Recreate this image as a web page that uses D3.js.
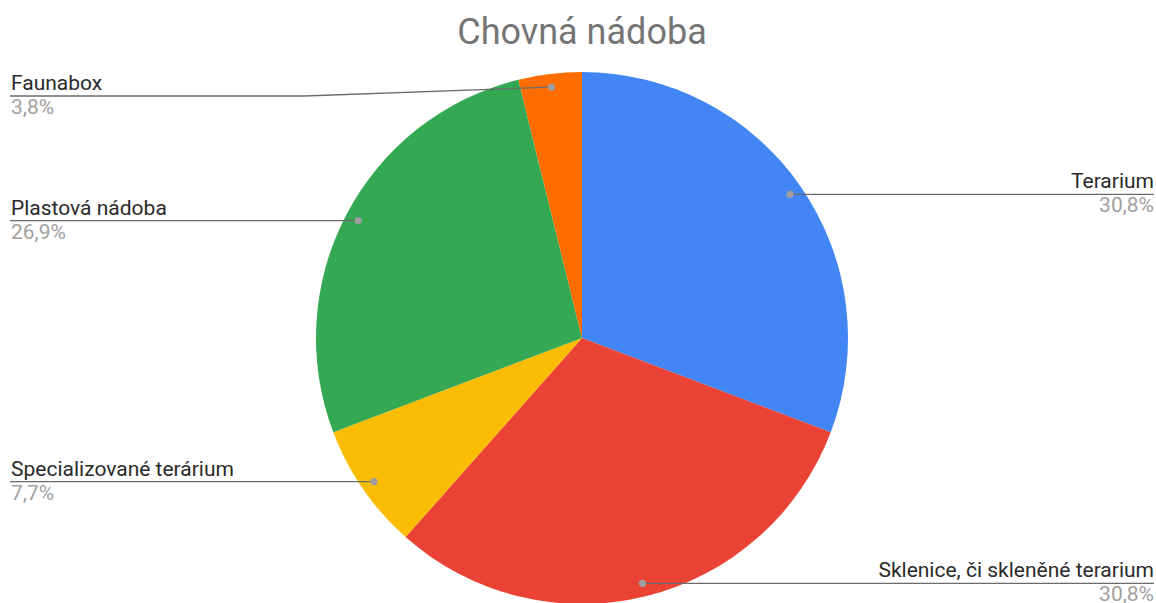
<!DOCTYPE html>
<html>
<head>
<meta charset="utf-8">
<script src="https://cdn.jsdelivr.net/npm/d3@7"></script>
<style>
  body { margin: 0; background: #fff; }
  text { font-family: Roboto, "Noto Sans", sans-serif; }
</style>
</head>
<body>
<div id="chart"></div>
<script>
var svgWidth = 1156;
var svgHeight = 603;

// data
var categories = ["Terarium", "Sklenice, či skleněné terarium", "Specializované terárium", "Plastová nádoba", "Faunabox"];
var counts = [8, 8, 2, 7, 1];
var colors = ["#4285f4", "#ea4335", "#fbbc04", "#34a853", "#ff6d01"];
var title = "Chovná nádoba";

var cx = 582, cy = 338, radius = 266;

var svg = d3.select("#chart")
    .append("svg")
    .attr("width", svgWidth)
    .attr("height", svgHeight);

svg.append("text")
    .attr("x", cx)
    .attr("y", 44)
    .attr("text-anchor", "middle")
    .attr("font-size", 36)
    .attr("fill", "#757575")
    .text(title);

var total = d3.sum(counts);
var locale = d3.formatLocale({ decimal: ",", thousands: " ", grouping: [3], currency: ["", " Kč"] });
var pct = locale.format(".1%");

var pie = d3.pie().sort(null).value(d => d);
var arcs = pie(counts);

var arc = d3.arc().innerRadius(0).outerRadius(radius);
var dotArc = d3.arc().innerRadius(radius * 0.95).outerRadius(radius * 0.95);

var g = svg.append("g").attr("transform", `translate(${cx}, ${cy})`);

g.selectAll("path")
    .data(arcs)
    .enter()
    .append("path")
    .attr("d", arc)
    .attr("fill", (d, i) => colors[i]);

// labels
var labels = svg.append("g");
var minLineY = 96;
arcs.forEach((d, i) => {
    var c = dotArc.centroid(d);
    var dx = cx + c[0], dy = cy + c[1];
    var right = c[0] > 0;
    var lineY = Math.max(dy, minLineY);
    var xEdge = right ? 1154 : 10;

    var pts;
    if (lineY !== dy) {
        pts = [[xEdge, lineY], [304, lineY], [dx, dy]];
    } else {
        pts = [[xEdge, lineY], [dx, dy]];
    }
    labels.append("path")
        .attr("d", d3.line()(pts))
        .attr("fill", "none")
        .attr("stroke", "#6b6b6b")
        .attr("stroke-width", 1.3);

    labels.append("circle")
        .attr("cx", dx)
        .attr("cy", dy)
        .attr("r", 3.6)
        .attr("fill", "#9e9e9e");

    var tx = right ? 1154 : 11;
    var anchor = right ? "end" : "start";
    labels.append("text")
        .attr("x", tx)
        .attr("y", lineY - 6)
        .attr("text-anchor", anchor)
        .attr("font-size", 21)
        .attr("fill", "#2a2a2a")
        .text(categories[i]);
    labels.append("text")
        .attr("x", tx)
        .attr("y", lineY + 18)
        .attr("text-anchor", anchor)
        .attr("font-size", 21)
        .attr("fill", "#a0a0a0")
        .text(pct(counts[i] / total));
});
</script>
</body>
</html>
